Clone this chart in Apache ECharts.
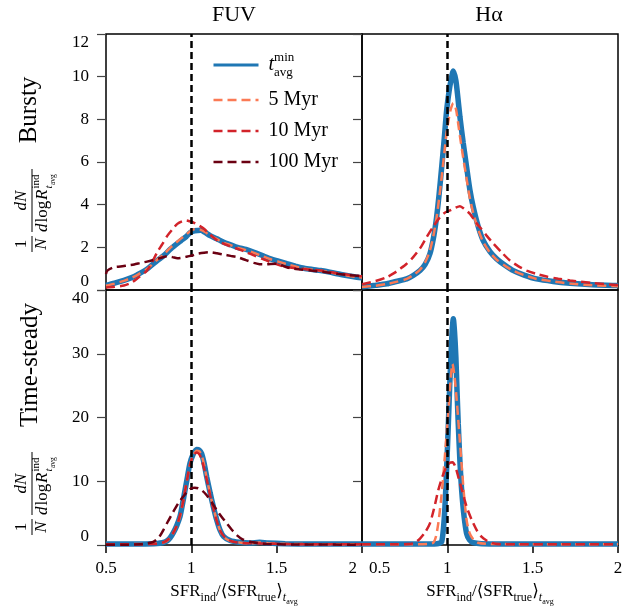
<!DOCTYPE html>
<html>
<head>
<meta charset="utf-8">
<script src="https://cdn.jsdelivr.net/npm/echarts@6/dist/echarts.min.js"></script>
<style>html,body{margin:0;padding:0;background:#fff}#c{width:638px;height:610px}</style>
</head>
<body>
<div id="c"></div>
<script>
// ---------- data (x = SFR_ind/<SFR_true>, y = normalized density) ----------
const xTicks = [0.5, 1, 1.5, 2];
const refX = 1;
const panelTitles = ['FUV', 'Hα'];
const rowTitles = ['Bursty', 'Time-steady'];
const seriesNames = ['tmin', '5 Myr', '10 Myr', '100 Myr'];

const fuvBurstyMin = [[0.50,0.22],[0.55,0.32],[0.605,0.45],[0.65,0.58],[0.683,0.71],[0.742,0.99],[0.80,1.38],[0.84,1.62],[0.879,1.93],[0.94,2.32],[0.97,2.5],[0.996,2.71],[1.02,2.78],[1.055,2.8],[1.08,2.7],[1.11,2.55],[1.15,2.4],[1.19,2.24],[1.23,2.12],[1.27,2.0],[1.32,1.9],[1.367,1.77],[1.42,1.6],[1.465,1.46],[1.51,1.35],[1.56,1.23],[1.61,1.12],[1.66,1.02],[1.71,0.96],[1.758,0.91],[1.81,0.84],[1.855,0.76],[1.91,0.68],[1.97,0.6],[2.0,0.57]];
const fuvBursty5 = [[0.50,0.2],[0.55,0.3],[0.605,0.43],[0.65,0.57],[0.683,0.7],[0.742,1.0],[0.80,1.42],[0.84,1.68],[0.879,2.0],[0.94,2.42],[0.97,2.6],[0.996,2.78],[1.02,2.85],[1.05,2.83],[1.08,2.72],[1.11,2.55],[1.15,2.38],[1.19,2.22],[1.23,2.1],[1.27,1.98],[1.32,1.87],[1.367,1.74],[1.42,1.58],[1.465,1.44],[1.51,1.33],[1.56,1.21],[1.61,1.1],[1.66,1.01],[1.71,0.95],[1.758,0.9],[1.81,0.83],[1.855,0.76],[1.91,0.68],[1.97,0.61],[2.0,0.58]];
const fuvBursty10 = [[0.50,0.12],[0.55,0.15],[0.605,0.21],[0.65,0.35],[0.68,0.52],[0.74,0.91],[0.77,1.3],[0.80,1.77],[0.83,2.15],[0.86,2.55],[0.89,2.85],[0.918,3.1],[0.945,3.22],[0.967,3.26],[0.99,3.22],[1.016,3.15],[1.045,3.02],[1.074,2.87],[1.11,2.6],[1.152,2.32],[1.21,2.1],[1.27,1.93],[1.32,1.78],[1.367,1.62],[1.42,1.45],[1.465,1.3],[1.51,1.18],[1.56,1.07],[1.61,1.02],[1.66,0.98],[1.71,0.95],[1.758,0.91],[1.81,0.85],[1.855,0.79],[1.92,0.72],[1.99,0.65],[2.0,0.64]];
const fuvBursty100 = [[0.50,0.75],[0.508,0.91],[0.547,1.07],[0.585,1.1],[0.625,1.15],[0.665,1.2],[0.703,1.27],[0.74,1.33],[0.78,1.41],[0.82,1.5],[0.86,1.58],[0.89,1.54],[0.918,1.49],[0.95,1.52],[0.976,1.57],[1.005,1.62],[1.035,1.7],[1.075,1.75],[1.113,1.77],[1.15,1.72],[1.19,1.66],[1.23,1.6],[1.27,1.54],[1.32,1.4],[1.367,1.27],[1.4,1.21],[1.426,1.2],[1.465,1.22],[1.504,1.23],[1.54,1.12],[1.58,1.02],[1.64,0.96],[1.70,0.91],[1.78,0.84],[1.855,0.76],[1.92,0.7],[1.99,0.65],[2.0,0.64]];

const haBurstyMin = [[0.50,0.15],[0.58,0.22],[0.645,0.29],[0.70,0.4],[0.762,0.52],[0.80,0.68],[0.84,0.91],[0.87,1.2],[0.898,1.7],[0.92,2.5],[0.937,3.41],[0.952,4.5],[0.967,5.76],[0.982,7.1],[0.996,8.42],[1.01,9.3],[1.021,9.82],[1.035,10.26],[1.05,9.82],[1.062,9.0],[1.074,8.1],[1.093,6.9],[1.113,5.76],[1.132,4.7],[1.152,3.88],[1.18,3.0],[1.21,2.32],[1.25,1.8],[1.289,1.46],[1.34,1.15],[1.387,0.91],[1.45,0.7],[1.523,0.52],[1.62,0.4],[1.719,0.32],[1.85,0.25],[1.99,0.21],[2.0,0.2]];
const haBursty5 = [[0.50,0.14],[0.58,0.2],[0.645,0.28],[0.70,0.38],[0.762,0.52],[0.80,0.7],[0.84,0.95],[0.87,1.3],[0.898,1.85],[0.92,2.6],[0.937,3.4],[0.952,4.3],[0.967,5.3],[0.982,6.4],[0.996,7.4],[1.01,8.1],[1.021,8.5],[1.035,8.76],[1.05,8.5],[1.062,7.9],[1.074,7.2],[1.093,6.2],[1.113,5.2],[1.132,4.3],[1.152,3.6],[1.18,2.85],[1.21,2.25],[1.25,1.75],[1.289,1.42],[1.34,1.12],[1.387,0.9],[1.45,0.7],[1.523,0.52],[1.62,0.4],[1.719,0.3],[1.85,0.22],[2.0,0.18]];
const haBursty10 = [[0.50,0.27],[0.58,0.42],[0.645,0.6],[0.69,0.8],[0.723,0.99],[0.76,1.22],[0.80,1.54],[0.84,1.95],[0.879,2.48],[0.92,3.0],[0.957,3.41],[0.985,3.62],[1.016,3.73],[1.045,3.85],[1.074,3.93],[1.10,3.8],[1.133,3.57],[1.16,3.25],[1.191,2.94],[1.23,2.55],[1.27,2.17],[1.32,1.75],[1.367,1.38],[1.415,1.12],[1.465,0.91],[1.52,0.76],[1.582,0.63],[1.65,0.53],[1.719,0.45],[1.85,0.33],[1.99,0.24],[2.0,0.24]];

const fuvSteadyMin = [[0.50,0.15],[0.6,0.15],[0.7,0.17],[0.8,0.25],[0.83,0.35],[0.855,0.6],[0.875,1.1],[0.894,1.9],[0.914,3.0],[0.934,4.5],[0.948,6.4],[0.963,8.6],[0.978,10.8],[0.992,12.8],[1.01,14.2],[1.031,15.0],[1.046,14.9],[1.06,14.35],[1.075,12.8],[1.09,10.7],[1.11,8.2],[1.129,6.0],[1.148,4.0],[1.168,2.35],[1.19,1.3],[1.227,0.7],[1.28,0.42],[1.344,0.3],[1.40,0.42],[1.45,0.3],[1.55,0.2],[1.7,0.15],[2.0,0.15]];
const fuvSteady5 = [[0.50,0.13],[0.6,0.13],[0.7,0.15],[0.8,0.23],[0.83,0.33],[0.855,0.6],[0.875,1.1],[0.894,1.9],[0.914,3.0],[0.934,4.5],[0.948,6.3],[0.963,8.5],[0.978,10.7],[0.992,12.6],[1.01,14.0],[1.031,14.8],[1.046,14.7],[1.06,14.1],[1.075,12.6],[1.09,10.5],[1.11,8.0],[1.129,5.9],[1.148,3.9],[1.168,2.3],[1.19,1.25],[1.227,0.65],[1.28,0.4],[1.344,0.28],[1.40,0.38],[1.45,0.28],[1.55,0.18],[1.7,0.13],[2.0,0.13]];
const fuvSteady10 = [[0.5,0.1],[0.7,0.12],[0.8,0.2],[0.84,0.45],[0.87,1.0],[0.894,1.9],[0.92,3.4],[0.948,6.3],[0.97,9.5],[0.99,12.3],[1.01,14.0],[1.031,14.5],[1.05,14.1],[1.07,12.5],[1.09,10.3],[1.11,7.8],[1.13,5.6],[1.15,3.7],[1.17,2.2],[1.2,1.1],[1.24,0.55],[1.3,0.3],[1.4,0.25],[1.6,0.12],[2.0,0.1]];
const fuvSteady100 = [[0.5,0.05],[0.6,0.05],[0.7,0.1],[0.74,0.25],[0.777,0.5],[0.81,1.2],[0.836,2.35],[0.865,3.8],[0.894,5.2],[0.925,6.6],[0.953,7.6],[0.977,8.4],[1.0,8.9],[1.02,9.0],[1.04,8.9],[1.065,8.5],[1.09,7.8],[1.12,6.7],[1.148,5.5],[1.178,4.4],[1.207,3.4],[1.237,2.4],[1.266,1.56],[1.3,0.9],[1.344,0.5],[1.39,0.3],[1.44,0.15],[1.6,0.08],[2.0,0.05]];

const haSteadyMin = [[0.5,0.15],[0.7,0.15],[0.9,0.16],[0.94,0.2],[0.955,0.3],[0.967,0.5],[0.977,2.5],[0.986,6.0],[0.996,12.0],[1.006,19.0],[1.014,25],[1.021,29.5],[1.028,33.5],[1.035,35.5],[1.042,33.5],[1.05,29.5],[1.057,24],[1.064,19.0],[1.074,13],[1.084,8.6],[1.098,4.5],[1.113,1.8],[1.13,0.8],[1.152,0.36],[1.2,0.2],[1.5,0.15],[2.0,0.15]];
const haSteady5 = [[0.5,0.12],[0.8,0.12],[0.9,0.2],[0.918,0.36],[0.933,1.3],[0.947,3.4],[0.962,6.8],[0.976,10.7],[0.991,15.8],[1.006,21],[1.018,25.5],[1.03,28.4],[1.042,26.5],[1.055,22.7],[1.07,17.5],[1.084,12.5],[1.098,7.8],[1.113,3.9],[1.13,1.9],[1.152,0.9],[1.18,0.35],[1.25,0.15],[2.0,0.12]];
const haSteady10 = [[0.5,0.1],[0.7,0.1],[0.77,0.15],[0.8,0.27],[0.82,0.55],[0.84,1.0],[0.87,2.0],[0.898,3.4],[0.922,5.7],[0.947,8.6],[0.972,10.8],[0.996,12.3],[1.015,12.9],[1.031,13.0],[1.048,12.2],[1.064,10.7],[1.088,8.4],[1.113,6.0],[1.142,4.0],[1.172,2.35],[1.2,1.3],[1.23,0.7],[1.26,0.35],[1.29,0.15],[1.4,0.1],[2.0,0.1]];

const topRange = [0, 12, 2];
const bottomRange = [0, 40, 10];

// ---------- chart ----------
const FONT = '"Liberation Serif", "DejaVu Serif", serif';
const styleOf = {
  'tmin':    {color: '#1f77b4', width: 5.5, type: 'solid'},
  '5 Myr':   {color: '#fb7a55', width: 2.5, type: [9, 5]},
  '10 Myr':  {color: '#d2232a', width: 2.5, type: [9, 5]},
  '100 Myr': {color: '#6b0012', width: 2.5, type: [9, 5]}
};
const panels = [
  [fuvBurstyMin, fuvBursty5, fuvBursty10, fuvBursty100],
  [haBurstyMin, haBursty5, haBursty10, null],
  [fuvSteadyMin, fuvSteady5, fuvSteady10, fuvSteady100],
  [haSteadyMin, haSteady5, haSteady10, null]
];
const grids = [
  {left: 106, top: 34, width: 256, height: 256},
  {left: 362, top: 34, width: 256, height: 256},
  {left: 106, top: 290, width: 256, height: 255},
  {left: 362, top: 290, width: 256, height: 255}
].map(g => Object.assign(g, {show: true, borderColor: '#000', borderWidth: 1.5, backgroundColor: 'transparent', containLabel: false}));

const xRich = {
  a:  {fontFamily: FONT, fontSize: 17, color: '#000', verticalAlign: 'bottom', padding: [0, 0, 5, 0]},
  s:  {fontFamily: FONT, fontSize: 12, color: '#000', verticalAlign: 'bottom', padding: [0, 0, 1, 0]},
  t:  {fontFamily: FONT, fontSize: 12, fontStyle: 'italic', color: '#000', verticalAlign: 'bottom', padding: [0, 0, 1, 0]},
  ss: {fontFamily: FONT, fontSize: 8, color: '#000', verticalAlign: 'bottom', padding: [0, 0, -1, 0]}
};
const xName = '{a|SFR}{s|ind}{a|/⟨SFR}{s|true}{a|⟩}{t|t}{ss|avg}';
const tickRich = {
  r: {fontFamily: FONT, fontSize: 17, color: '#000', padding: [0, 5, 0, 0]},
  l: {fontFamily: FONT, fontSize: 17, color: '#000', padding: [0, 0, 0, 7]}
};

const xAxes = [0, 1, 2, 3].map(i => {
  const bottom = i >= 2;
  const lab = {show: bottom, margin: 15, fontFamily: FONT, fontSize: 17, color: '#000', rich: tickRich};
  if (i === 2) {
    lab.alignMaxLabel = 'right';
    lab.formatter = v => (v === xTicks[xTicks.length - 1] ? '{r|' + v + '}' : String(v));
  }
  if (i === 3) {
    lab.alignMinLabel = 'left';
    lab.formatter = v => (v === xTicks[0] ? '{l|' + v + '}' : String(v));
  }
  return {
    type: 'value', gridIndex: i, min: xTicks[0], max: xTicks[xTicks.length - 1], interval: xTicks[1] - xTicks[0],
    axisLine: {show: false}, splitLine: {show: false},
    axisTick: {show: bottom, length: 8, lineStyle: {color: '#000', width: 1.5}},
    axisLabel: lab,
    name: bottom ? xName : '', nameLocation: 'middle', nameGap: 38,
    nameTextStyle: {rich: xRich}
  };
});
const yAxes = [0, 1, 2, 3].map(i => {
  const r = i < 2 ? topRange : bottomRange;
  return {
    type: 'value', gridIndex: i, min: r[0], max: r[1], interval: r[2],
    axisLine: {show: false}, splitLine: {show: false},
    axisTick: {show: true, length: 9, lineStyle: {color: '#444', width: 1.2}},
    axisLabel: {show: i % 2 === 0, margin: 17, fontFamily: FONT, fontSize: 17, color: '#000',
      verticalAlignMinLabel: 'bottom', verticalAlignMaxLabel: 'top'}
  };
});

const series = [];
panels.forEach((arrs, gi) => {
  arrs.forEach((d, k) => {
    if (!d) return;
    const nm = seriesNames[k];
    const st = styleOf[nm];
    const s = {
      type: 'line', name: nm, data: d, xAxisIndex: gi, yAxisIndex: gi,
      symbol: 'none', smooth: 0.25, color: st.color,
      lineStyle: {color: st.color, width: st.width, type: st.type, cap: 'butt'},
      z: 2 + k, animation: false
    };
    if (k === 0) {
      s.markLine = {silent: true, symbol: 'none', label: {show: false}, animation: false,
        lineStyle: {color: '#000', type: [7, 4], width: 2.5}, data: [{xAxis: refX}]};
    }
    series.push(s);
  });
});

function txt(text, x, y, size, fst, align) {
  return {type: 'text', x: x, y: y, style: {text: text, font: fst + ' ' + size + 'px ' + FONT, fill: '#000',
    align: align, verticalAlign: 'middle', textAlign: align, textVerticalAlign: 'middle'}};
}
function ln(x1, y1, x2, y2) {
  return {type: 'line', shape: {x1: x1, y1: y1, x2: x2, y2: y2}, style: {stroke: '#000', lineWidth: 1}};
}
function fracLabel(Y) {
  return {type: 'group', x: 32, y: Y, rotation: Math.PI / 2, children: [
    txt('1', -33, -10, 17, 'normal', 'center'),
    ln(-41, 0, -25, 0),
    txt('N', -33, 10, 17, 'italic', 'center'),
    txt('dN', 10.5, -10, 17, 'italic', 'center'),
    ln(-21, 0, 42, 0),
    txt('d', -21, 11, 17, 'italic', 'left'),
    txt('log', -11.5, 11, 17, 'normal', 'left'),
    txt('R', 11, 11, 17, 'italic', 'left'),
    txt('ind', 22.5, 4, 11, 'normal', 'left'),
    txt('t', 22.5, 17.5, 11, 'italic', 'left'),
    txt('avg', 26, 21, 7.5, 'normal', 'left')
  ]};
}
function rotTitle(text, x, y) {
  return {type: 'text', x: x, y: y, rotation: Math.PI / 2, style: {text: text, font: '25px ' + FONT, fill: '#000',
    align: 'center', verticalAlign: 'middle', textAlign: 'center', textVerticalAlign: 'middle'}};
}
const graphic = [
  txt(panelTitles[0], 234, 15, 22, 'normal', 'center'),
  txt(panelTitles[1], 489, 15, 22, 'normal', 'center'),
  rotTitle(rowTitles[0], 29, 110),
  rotTitle(rowTitles[1], 30, 365),
  fracLabel(211),
  fracLabel(494)
];

const legend = {
  orient: 'vertical', left: 207, top: 46, itemWidth: 45, itemHeight: 14, itemGap: 11,
  selectedMode: false,
  itemStyle: {opacity: 0},
  textStyle: {fontFamily: FONT, fontSize: 20, color: '#000', lineHeight: 20, padding: [0, 0, 0, 5],
    rich: {
      t:   {fontFamily: FONT, fontSize: 20, fontStyle: 'italic', color: '#000', lineHeight: 28, verticalAlign: 'middle'},
      sup: {fontFamily: FONT, fontSize: 13, color: '#000', width: 0, verticalAlign: 'top', lineHeight: 13},
      sub: {fontFamily: FONT, fontSize: 13, color: '#000', verticalAlign: 'bottom', lineHeight: 13}
    }},
  formatter: function (n) { return n === 'tmin' ? '{t|t}{sup|min}{sub|avg}' : n; },
  data: seriesNames.map(n => ({name: n, itemStyle: {opacity: 0},
    lineStyle: {width: n === 'tmin' ? 3 : 2.5, type: styleOf[n].type, color: styleOf[n].color}}))
};

const chart = echarts.init(document.getElementById('c'), null, {renderer: 'canvas'});
chart.setOption({
  animation: false,
  backgroundColor: '#fff',
  grid: grids, xAxis: xAxes, yAxis: yAxes, series: series,
  legend: legend, graphic: graphic
});
</script>
</body>
</html>
